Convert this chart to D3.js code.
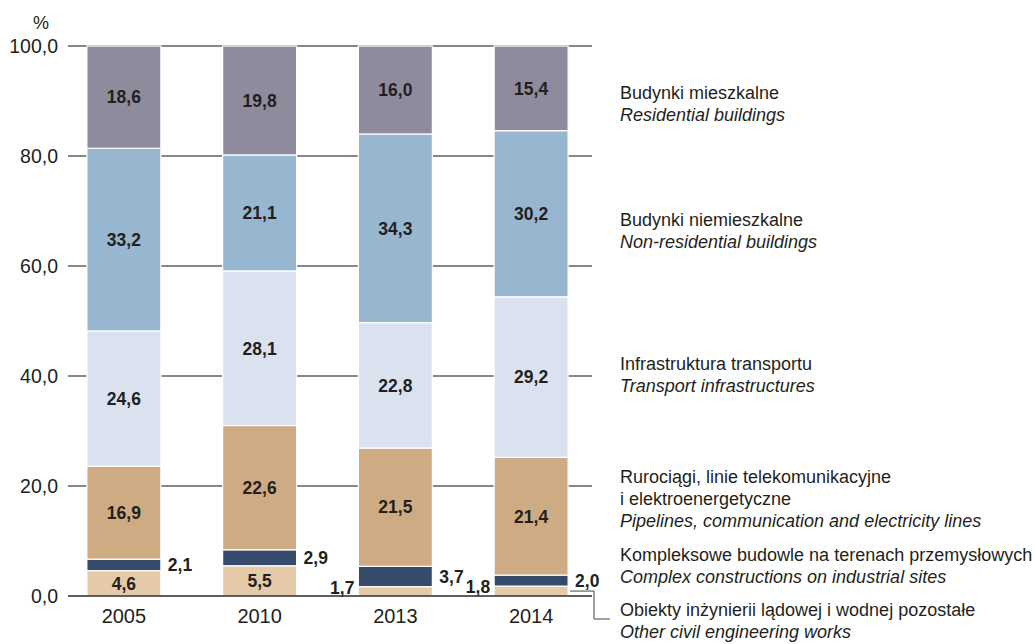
<!DOCTYPE html>
<html>
<head>
<meta charset="utf-8">
<script src="https://cdn.jsdelivr.net/npm/d3@7"></script>
<style>
  body { margin: 0; background: #fff; }
  svg { font-family: "Liberation Sans", Arial, sans-serif; }
</style>
</head>
<body>
<svg id="chart" width="1035" height="644"></svg>
<script>
const years = ["2005", "2010", "2013", "2014"];

// shares in %, bottom to top
const otherCivil = [4.6, 5.5, 1.7, 1.8];
const complexSites = [2.1, 2.9, 3.7, 2.0];
const pipelines = [16.9, 22.6, 21.5, 21.4];
const transport = [24.6, 28.1, 22.8, 29.2];
const nonResidential = [33.2, 21.1, 34.3, 30.2];
const residential = [18.6, 19.8, 16.0, 15.4];

const yTicks = [0, 20, 40, 60, 80, 100];

const seriesKeys = ["other", "complex", "pipelines", "transport", "nonres", "res"];
const seriesValues = [otherCivil, complexSites, pipelines, transport, nonResidential, residential];

const legendLabels = [
  ["Obiekty inżynierii lądowej i wodnej pozostałe", "Other civil engineering works"],
  ["Kompleksowe budowle na terenach przemysłowych", "Complex constructions on industrial sites"],
  ["Rurociągi, linie telekomunikacyjne", "i elektroenergetyczne", "Pipelines, communication and electricity lines"],
  ["Infrastruktura transportu", "Transport infrastructures"],
  ["Budynki niemieszkalne", "Non-residential buildings"],
  ["Budynki mieszkalne", "Residential buildings"]
];

// layout / style
const colors = {
  other: "#e5caa9",
  complex: "#364b6c",
  pipelines: "#cfab83",
  transport: "#dbe2ef",
  nonres: "#97b6d0",
  res: "#8e8c9c"
};
const legendTop = { other: 610, complex: 555, pipelines: 477, transport: 364, nonres: 220, res: 93 };
const textColor = "#231f20";

const rows = years.map((y, i) => {
  const r = { year: y };
  seriesKeys.forEach((k, j) => r[k] = seriesValues[j][i]);
  return r;
});

const stack = d3.stack().keys(seriesKeys);
const layers = stack(rows);

const xScale = d3.scaleBand(years, [56, 599]).paddingInner(0.455).paddingOuter(0.2275);
const yScale = d3.scaleLinear([0, 100], [596, 46]);

const svg = d3.select("#chart");
const fmt = v => d3.format(".1f")(v).replace(".", ",");

// grid lines
svg.append("g")
  .selectAll("line")
  .data(yTicks.filter(t => t > 0))
  .enter()
  .append("line")
  .attr("x1", 68)
  .attr("x2", 592)
  .attr("y1", d => yScale(d))
  .attr("y2", d => yScale(d))
  .attr("stroke", "#5f5f5f")
  .attr("stroke-width", 1.3);

// y tick labels
const yAxis = d3.axisLeft(yScale)
  .tickValues(yTicks)
  .tickSize(0)
  .tickPadding(0)
  .tickFormat(fmt);

const ya = svg.append("g")
  .attr("transform", "translate(58, 0)")
  .call(yAxis);
ya.select(".domain").remove();
ya.selectAll("text")
  .attr("font-size", "19.5px")
  .attr("font-family", "Liberation Sans, Arial, sans-serif")
  .attr("fill", textColor);

svg.append("text")
  .attr("x", 41)
  .attr("y", 29)
  .attr("text-anchor", "middle")
  .attr("font-size", "18px")
  .attr("fill", textColor)
  .text("%");

// bars
const groups = svg.selectAll(".layer")
  .data(layers)
  .enter()
  .append("g")
  .attr("class", "layer")
  .attr("fill", d => colors[d.key]);

groups.selectAll("rect")
  .data(d => d)
  .enter()
  .append("rect")
  .attr("x", d => xScale(d.data.year))
  .attr("width", xScale.bandwidth())
  .attr("y", d => yScale(d[1]))
  .attr("height", d => yScale(d[0]) - yScale(d[1]))
  .attr("stroke", "#fff")
  .attr("stroke-width", 1.2);

// base line
svg.append("line")
  .attr("x1", 68)
  .attr("x2", 592)
  .attr("y1", yScale(0))
  .attr("y2", yScale(0))
  .attr("stroke", "#2a2a2a")
  .attr("stroke-width", 1.3);

// x labels
const xAxis = d3.axisBottom(xScale).tickSize(0).tickPadding(13);
const xa = svg.append("g")
  .attr("transform", `translate(0, ${yScale(0)})`)
  .call(xAxis);
xa.select(".domain").remove();
xa.selectAll("text")
  .attr("font-size", "20px")
  .attr("font-family", "Liberation Sans, Arial, sans-serif")
  .attr("fill", textColor);

// value labels
layers.forEach(layer => {
  layer.forEach(d => {
    const v = d[1] - d[0];
    const x0 = xScale(d.data.year);
    const mid = yScale((d[0] + d[1]) / 2);
    let x = x0 + xScale.bandwidth() / 2, anchor = "middle", y = mid;
    if (layer.key === "complex") {
      x = x0 + xScale.bandwidth() + 7;
      anchor = "start";
    } else if (v < 4) {
      x = x0 - 4;
      anchor = "end";
      y = mid - 4;
    }
    svg.append("text")
      .attr("x", x)
      .attr("y", y)
      .attr("dy", "0.36em")
      .attr("text-anchor", anchor)
      .attr("font-size", "17.5px")
      .attr("font-weight", "bold")
      .attr("fill", textColor)
      .text(fmt(v));
  });
});

// leader line for the bottom series
const last = layers[0][layers[0].length - 1];
const lx = xScale(last.data.year) + xScale.bandwidth();
const ly = yScale((last[0] + last[1]) / 2);
svg.append("path")
  .attr("d", `M${lx + 2},${ly} H594 V619 H610`)
  .attr("fill", "none")
  .attr("stroke", "#444")
  .attr("stroke-width", 1);

// legend
layers.forEach((layer, i) => {
  const lines = legendLabels[i];
  const t = svg.append("text")
    .attr("x", 620)
    .attr("y", legendTop[layer.key])
    .attr("font-size", "18px")
    .attr("fill", textColor);
  lines.forEach((s, j) => {
    t.append("tspan")
      .attr("x", 620)
      .attr("dy", j === 0 ? "0.36em" : "22px")
      .attr("font-style", j === lines.length - 1 ? "italic" : "normal")
      .text(s);
  });
});
</script>
</body>
</html>
